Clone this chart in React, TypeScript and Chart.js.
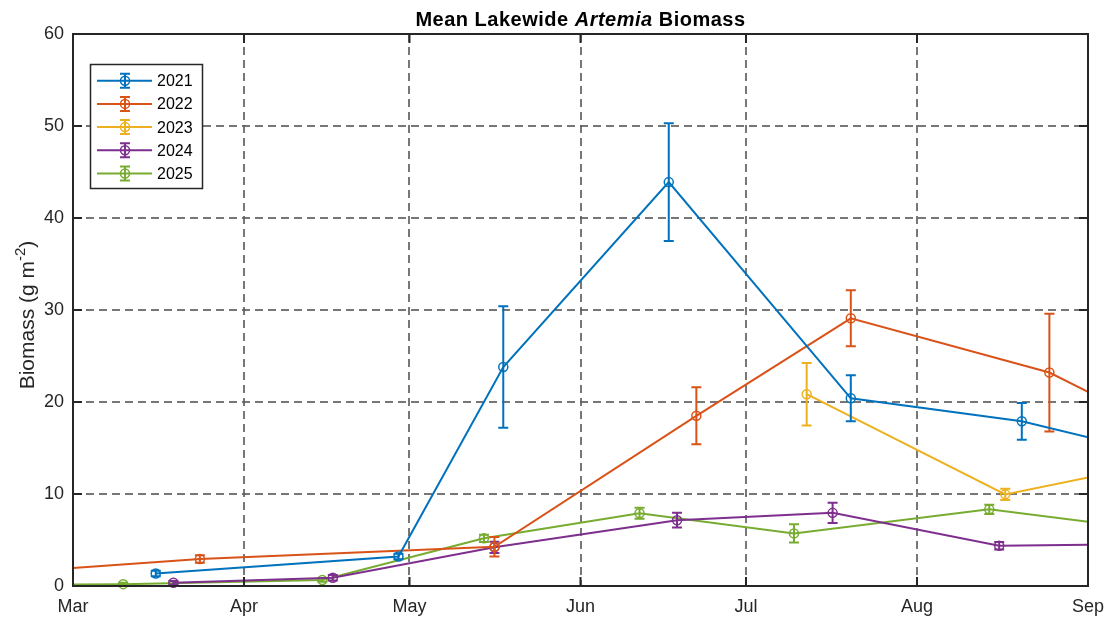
import React, { useEffect, useRef } from "react";
import { Chart, registerables } from "chart.js";

Chart.register(...registerables);

// ---- data ----
const monthTicks = [0, 31, 61, 92, 122, 153, 184]; // days since Mar 1
const monthLabels = ["Mar", "Apr", "May", "Jun", "Jul", "Aug", "Sep"];
const yTicks = [0, 10, 20, 30, 40, 50, 60];

const seriesNames = ["2021", "2022", "2023", "2024", "2025"];
const colors = ["#0072BD", "#D95319", "#EDB120", "#7E2F8E", "#77AC30"];

const days2021 = [15, 59, 78, 108, 141, 172, 195];
const vals2021 = [1.35, 3.2, 23.8, 43.9, 20.4, 17.9, 14.6];
const err2021 = [0.3, 0.3, 6.6, 6.4, 2.5, 2.0, 0];

const days2022 = [-15, 23, 76.4, 113, 141, 177, 195];
const vals2022 = [1.3, 2.93, 4.27, 18.5, 29.1, 23.2, 17.8];
const err2022 = [0, 0.4, 1.05, 3.1, 3.05, 6.4, 0];

const days2023 = [133, 169, 195];
const vals2023 = [20.85, 9.96, 13.15];
const err2023 = [3.4, 0.6, 0];

const days2024 = [18.2, 47.1, 76.4, 109.5, 137.7, 167.9, 195];
const vals2024 = [0.35, 0.9, 4.2, 7.15, 7.95, 4.38, 4.57];
const err2024 = [0.2, 0.3, 0.6, 0.8, 1.1, 0.4, 0];

const days2025 = [-15, 9.1, 45.2, 74.5, 102.7, 130.7, 166.1, 195];
const vals2025 = [0.1, 0.2, 0.65, 5.18, 7.9, 5.72, 8.33, 6.17];
const err2025 = [0, 0.15, 0.2, 0.4, 0.6, 1.0, 0.5, 0];

const allDays = [days2021, days2022, days2023, days2024, days2025];
const allVals = [vals2021, vals2022, vals2023, vals2024, vals2025];
const allErrs = [err2021, err2022, err2023, err2024, err2025];

const FONT = '"Liberation Sans", Arial, Helvetica, sans-serif';
const AXIS_COLOR = "#262626";
const GRID_COLOR = "rgba(95,95,95,0.85)";

const errorBarPlugin = {
  id: "errorBars",
  afterDatasetDraw(chart: any, args: any) {
    const i = args.index;
    const errs = allErrs[i];
    if (!errs) return;
    const { ctx, chartArea } = chart;
    const xs = chart.scales.x;
    const ys = chart.scales.y;
    ctx.save();
    ctx.beginPath();
    ctx.rect(chartArea.left, chartArea.top, chartArea.right - chartArea.left, chartArea.bottom - chartArea.top + 8);
    ctx.clip();
    ctx.strokeStyle = colors[i];
    ctx.lineWidth = 2;
    allDays[i].forEach((d, k) => {
      const e = errs[k];
      if (!e) return;
      const px = xs.getPixelForValue(d);
      const yt = ys.getPixelForValue(allVals[i][k] + e);
      const yb = ys.getPixelForValue(allVals[i][k] - e);
      ctx.beginPath();
      ctx.moveTo(px, yt);
      ctx.lineTo(px, yb);
      ctx.moveTo(px - 5, yt);
      ctx.lineTo(px + 5, yt);
      ctx.moveTo(px - 5, yb);
      ctx.lineTo(px + 5, yb);
      ctx.stroke();
    });
    ctx.restore();
  },
};

const decorPlugin = {
  id: "decor",
  beforeDraw(chart: any) {
    const { ctx, width, height } = chart;
    ctx.save();
    ctx.fillStyle = "#fff";
    ctx.fillRect(0, 0, width, height);
    ctx.restore();
  },
  afterDraw(chart: any) {
    const { ctx, chartArea } = chart;
    const { left, right, top, bottom } = chartArea;
    const xs = chart.scales.x;
    const ys = chart.scales.y;
    ctx.save();
    // inner ticks
    ctx.strokeStyle = AXIS_COLOR;
    ctx.lineWidth = 2;
    ctx.beginPath();
    monthTicks.forEach((v) => {
      const px = xs.getPixelForValue(v);
      ctx.moveTo(px, bottom);
      ctx.lineTo(px, bottom - 9);
      ctx.moveTo(px, top);
      ctx.lineTo(px, top + 9);
    });
    yTicks.forEach((v) => {
      const py = ys.getPixelForValue(v);
      ctx.moveTo(left, py);
      ctx.lineTo(left + 9, py);
      ctx.moveTo(right, py);
      ctx.lineTo(right - 9, py);
    });
    ctx.stroke();
    // box
    ctx.strokeRect(left, top, right - left, bottom - top);

    // title
    const cx = (left + right) / 2;
    const parts = [
      { t: "Mean Lakewide ", f: `bold 20px ${FONT}` },
      { t: "Artemia", f: `italic bold 20px ${FONT}` },
      { t: " Biomass", f: `bold 20px ${FONT}` },
    ];
    (ctx as any).letterSpacing = "0.5px";
    let total = 0;
    parts.forEach((p) => {
      ctx.font = p.f;
      total += ctx.measureText(p.t).width;
    });
    let x = cx - total / 2;
    ctx.fillStyle = "#000";
    ctx.textBaseline = "alphabetic";
    ctx.textAlign = "left";
    parts.forEach((p) => {
      ctx.font = p.f;
      ctx.fillText(p.t, x, 26);
      x += ctx.measureText(p.t).width;
    });
    (ctx as any).letterSpacing = "0px";

    // y label
    ctx.save();
    ctx.translate(34, 315);
    ctx.rotate(-Math.PI / 2);
    const main = "Biomass (g m";
    const sup = "-2";
    const close = ")";
    ctx.font = `21px ${FONT}`;
    const w1 = ctx.measureText(main).width;
    const w3 = ctx.measureText(close).width;
    ctx.font = `15px ${FONT}`;
    const w2 = ctx.measureText(sup).width;
    let sx = -(w1 + w2 + w3) / 2;
    ctx.fillStyle = AXIS_COLOR;
    ctx.font = `21px ${FONT}`;
    ctx.fillText(main, sx, 0);
    sx += w1;
    ctx.font = `15px ${FONT}`;
    ctx.fillText(sup, sx, -9);
    sx += w2;
    ctx.font = `21px ${FONT}`;
    ctx.fillText(close, sx, 0);
    ctx.restore();

    // legend
    const lx = 90.5, ly = 64.5, lw = 112, lh = 124;
    ctx.fillStyle = "#fff";
    ctx.fillRect(lx, ly, lw, lh);
    ctx.strokeStyle = AXIS_COLOR;
    ctx.lineWidth = 1.5;
    ctx.strokeRect(lx, ly, lw, lh);
    seriesNames.forEach((name, i) => {
      const yy = 80.7 + i * 23.2;
      ctx.strokeStyle = colors[i];
      ctx.lineWidth = 2;
      ctx.beginPath();
      ctx.moveTo(97, yy);
      ctx.lineTo(152, yy);
      ctx.moveTo(125, yy - 7);
      ctx.lineTo(125, yy + 7);
      ctx.moveTo(120, yy - 7);
      ctx.lineTo(130, yy - 7);
      ctx.moveTo(120, yy + 7);
      ctx.lineTo(130, yy + 7);
      ctx.stroke();
      ctx.lineWidth = 1.5;
      ctx.beginPath();
      ctx.arc(125, yy, 4.5, 0, Math.PI * 2);
      ctx.stroke();
      ctx.fillStyle = "#000";
      ctx.font = `16px ${FONT}`;
      ctx.textBaseline = "middle";
      ctx.fillText(name, 157, yy + 1);
    });
    ctx.restore();
  },
};

export default function App() {
  const ref = useRef<HTMLCanvasElement>(null);
  useEffect(() => {
    if (!ref.current) return;
    const datasets = seriesNames.map((name, i) => ({
      label: name,
      data: allDays[i].map((d, k) => ({ x: d, y: allVals[i][k] })),
      borderColor: colors[i],
      backgroundColor: "rgba(0,0,0,0)",
      borderWidth: 2,
      pointRadius: 4.5,
      pointBorderWidth: 1.5,
      pointBorderColor: colors[i],
      pointBackgroundColor: "rgba(0,0,0,0)",
      tension: 0,
      fill: false,
      clip: { left: 0, right: 0, top: 0, bottom: 8 },
    }));
    const chart = new Chart(ref.current, {
      type: "line",
      data: { datasets },
      options: {
        animation: false,
        responsive: false,
        maintainAspectRatio: false,
        layout: { padding: { left: 0, top: 34, right: 21, bottom: 0 } },
        plugins: {
          legend: { display: false },
          title: { display: false },
          tooltip: { enabled: false },
        },
        scales: {
          x: {
            type: "linear",
            min: 0,
            max: 184,
            afterBuildTicks: (s: any) => {
              s.ticks = monthTicks.map((v) => ({ value: v }));
            },
            afterFit: (s: any) => {
              s.height = 32;
              s.paddingLeft = 0;
              s.paddingRight = 0;
            },
            ticks: {
              callback: (v: any) => monthLabels[monthTicks.indexOf(v)] ?? "",
              font: { family: FONT, size: 18 },
              color: AXIS_COLOR,
              padding: 10,
              maxRotation: 0,
              autoSkip: false,
            },
            grid: { color: GRID_COLOR, lineWidth: 2, drawTicks: false },
            border: { display: false, dash: [8, 5] },
          },
          y: {
            type: "linear",
            min: 0,
            max: 60,
            afterBuildTicks: (s: any) => {
              s.ticks = yTicks.map((v) => ({ value: v }));
            },
            afterFit: (s: any) => {
              s.width = 73;
              s.paddingTop = 0;
              s.paddingBottom = 0;
            },
            ticks: {
              font: { family: FONT, size: 18 },
              color: AXIS_COLOR,
              padding: 9,
            },
            grid: { color: GRID_COLOR, lineWidth: 2, drawTicks: false },
            border: { display: false, dash: [8, 5] },
          },
        },
      },
      plugins: [errorBarPlugin, decorPlugin],
    } as any);
    return () => chart.destroy();
  }, []);
  return (
    <div style={{ position: "fixed", left: 0, top: 0, width: 1109, height: 618, background: "#fff" }}>
      <canvas ref={ref} width={1109} height={618} style={{ display: "block", width: 1109, height: 618 }} />
    </div>
  );
}
